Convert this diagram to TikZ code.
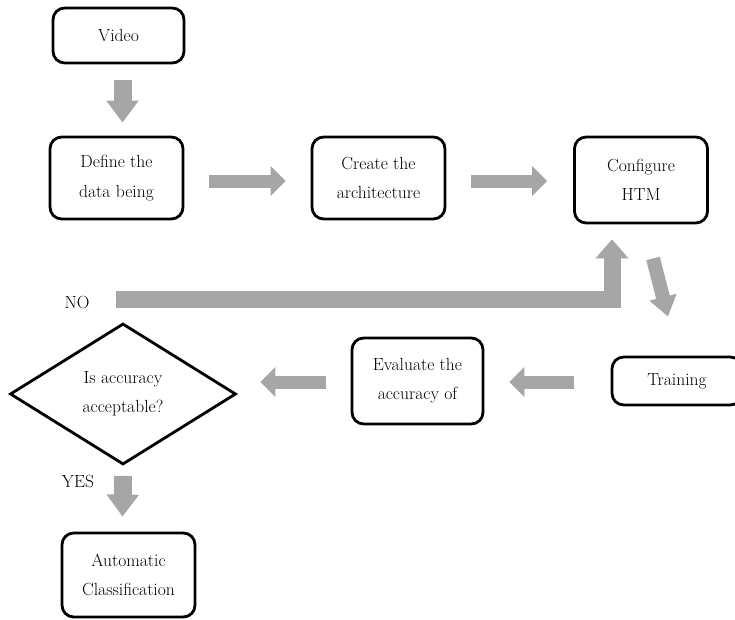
\documentclass[tikz,border=0pt]{standalone}
\usepackage{tikz}
\usetikzlibrary{calc,arrows.meta,shapes.geometric}
\definecolor{arrowgray}{RGB}{166,166,166}
\newcommand{\flowfont}{\fontsize{15}{25}\selectfont}
\tikzset{
    box/.style={draw, line width=2.4pt, rounded corners=10pt, align=center, font=\flowfont, inner sep=0pt},
    ask/.style={draw, diamond, line width=2.4pt, aspect=1.6, align=center, font=\flowfont, inner sep=0pt},
    tag/.style={font=\flowfont},
    blockarrow/.style n args={3}{draw=arrowgray, line width=#1, line join=miter, -{Triangle[width=#2,length=#3]}},
    flatarrow/.style={blockarrow={0.39cm}{0.87cm}{0.45cm}},
    droparrow/.style={blockarrow={0.54cm}{0.93cm}{0.66cm}}
}

\begin{document}
\begin{tikzpicture}[x=0.03cm, y=-0.03cm]
    \useasboundingbox (0,0) rectangle (735,619);
    % steps
    \node[box, minimum width=3.93cm, minimum height=1.65cm] (video) at (118.5,35.5) {Video};
    \node[box, minimum width=3.99cm, minimum height=2.46cm] (define) at (116.5,178) {Define the\\data being};
    \node[box, minimum width=3.99cm, minimum height=2.46cm] (create) at (378.5,178) {Create the\\architecture};
    \node[box, minimum width=3.99cm, minimum height=2.58cm] (configure) at (641,180) {Configure\\HTM};
    \node[box, minimum width=3.9cm, minimum height=1.44cm] (training) at (677,381) {Training};
    \node[box, minimum width=3.93cm, minimum height=2.58cm] (evaluate) at (417.5,381) {Evaluate the\\accuracy of};
    \node[ask, minimum width=6.78cm, minimum height=4.23cm] (decision) at (123,394) {Is accuracy\\acceptable?};
    \node[box, minimum width=3.99cm, minimum height=2.52cm] (automatic) at (128.5,575) {Automatic\\Classification};
    % answers
    \node[tag] (lblno) at (77,302) {NO};
    \node[tag] (lblyes) at (78,481) {YES};
    % block arrows
    \draw[droparrow] ($(video.south)+(4,16)$) -- ($(define.north)+(6,-13)$);
    \draw[flatarrow] ($(define.east)+(25,3)$) -- ($(create.west)+(-25,3)$);
    \draw[flatarrow] ($(create.east)+(25,3)$) -- ($(configure.west)+(-26,1)$);
    \draw[blockarrow={0.42cm}{0.8cm}{0.6cm}] ($(configure.south)+(12,34)$) -- ($(training.north)+(-9,-39)$);
    \draw[flatarrow] ($(training.west)+(-37,1)$) -- ($(evaluate.east)+(25,1)$);
    \draw[flatarrow] ($(evaluate.west)+(-25,1)$) -- ($(decision.east)+(23,-12)$);
    \draw[blockarrow={0.51cm}{0.96cm}{0.57cm}] ($(decision.north)+(-7,-23)$) -| ($(configure.south)+(-29,15)$);
    \draw[droparrow] ($(decision.south)+(0,10)$) -- ($(automatic.north)+(-6,-15)$);
\end{tikzpicture}
\end{document}
